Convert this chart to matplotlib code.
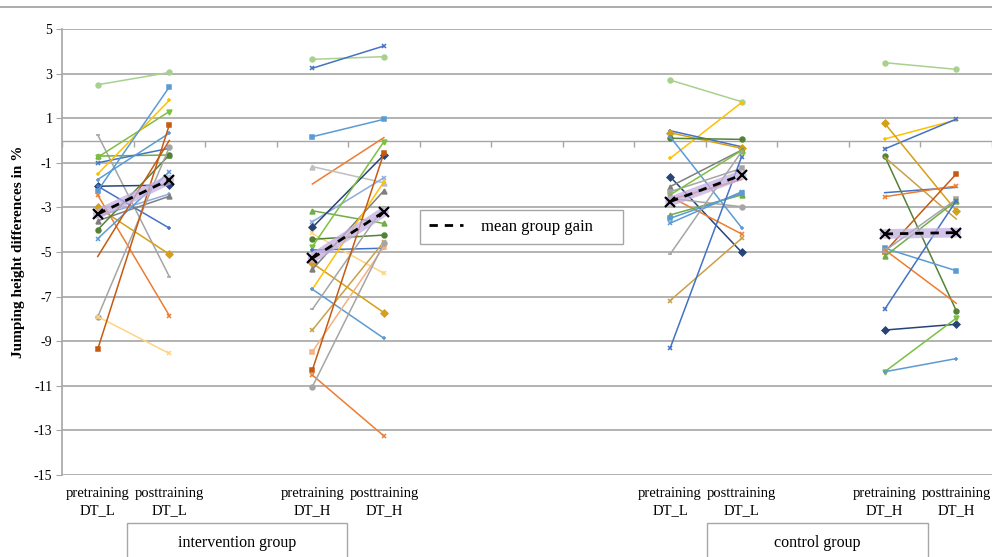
import matplotlib.pyplot as plt
import matplotlib.markers as mmarkers
from matplotlib.lines import Line2D
from matplotlib.patches import Rectangle

plt.rcParams['font.family'] = ['Liberation Serif', 'DejaVu Serif']
plt.rcParams['axes.unicode_minus'] = False

# category slots on the x axis (13 slots, some empty)
categories = ['pretraining\nDT_L', 'posttraining\nDT_L', '',
              'pretraining\nDT_H', 'posttraining\nDT_H', '', '', '',
              'pretraining\nDT_L', 'posttraining\nDT_L', '',
              'pretraining\nDT_H', 'posttraining\nDT_H']
yticks = [5, 3, 1, -1, -3, -5, -7, -9, -11, -13, -15]

# intervention group, DT_L
int_L_pre = [2.5, 0.25, -0.7, -0.75, -1.0, -1.5, -1.75, -2.05, -2.05, -2.25,
             -2.45, -3.0, -3.4, -3.6, -4.0, -4.4, -5.2, -7.9, -7.9, -9.35]
int_L_post = [3.05, -6.1, -0.65, 1.3, -0.35, 1.8, 0.33, -2.0, -3.93, 2.4,
              -7.85, -5.1, -2.4, -2.5, -0.65, -1.4, 0.0, -0.3, -9.55, 0.7]
# intervention group, DT_H
int_H_pre = [3.64, 3.24, 0.17, -1.95, -1.17, -3.15, -3.64, -3.9, -4.17, -4.43, -4.76,
             -4.91, -5.5, -5.78, -6.67, -6.67, -7.57, -8.5, -9.47, -10.29, -10.52, -11.04]
int_H_post = [3.76, 4.24, 0.95, 0.13, -1.9, -3.72, -1.67, -0.65, -5.96, -4.24, -0.05,
              -4.83, -7.72, -2.25, -1.85, -8.87, -2.97, -4.54, -4.76, -0.56, -13.25, -4.6]
# control group, DT_L
ctl_L_pre = [2.71, -0.8, 0.44, 0.35, 0.1, 0.17, -1.62, -2.07, -2.3, -2.44, -2.52,
             -2.6, -3.34, -3.49, -3.71, -5.1, -7.18, -9.32, -2.65]
ctl_L_post = [1.74, 1.7, -0.28, -0.35, 0.05, -3.91, -5.01, -0.43, -1.25, -0.45, -4.19,
              -2.97, -2.44, -2.37, -2.3, -0.5, -4.39, -0.73, -1.75]
# control group, DT_H
ctl_H_pre = [3.49, 0.07, -0.38, 0.77, -0.7, -0.75, -2.34, -2.52, -5.0, -4.83, -4.95,
             -4.9, -5.2, -7.57, -8.5, -10.37, -10.37]
ctl_H_post = [3.19, 0.92, 0.96, -3.15, -7.63, -3.52, -2.1, -2.04, -1.5, -5.84, -2.64,
              -7.3, -2.7, -2.7, -8.24, -7.97, -9.78]

mean_pre = [-3.3, -5.28, -2.74, -4.19]
mean_post = [-1.75, -3.2, -1.55, -4.13]

# styles
LG, GRAY, DGRAY, GREEN, LIME = '#A9D18E', '#A5A5A5', '#7F7F7F', '#70AD47', '#7CC042'
BLUE, LBLUE, NAVY, YEL, ORA = '#4472C4', '#5B9BD5', '#264478', '#FFC000', '#ED7D31'
DORA, GOLD, TAN, LPUR, LORA = '#C55A11', '#D4A017', '#C9A04A', '#8FAADC', '#FFD480'
SAL, DGRN, LGRAY = '#F4B183', '#548235', '#BFBFBF'

int_L_style = [(LG, 'o'), (GRAY, '_'), (GREEN, '^'), (LIME, 'v'), (BLUE, 'x'),
               (YEL, '+'), (LBLUE, '+'), (NAVY, 'D'), (BLUE, '+'), (LBLUE, 's'),
               (ORA, 'x'), (GOLD, 'D'), (LPUR, '+'), (DGRAY, '^'), (DGRN, 'o'),
               (LBLUE, 'x'), (DORA, ''), (GRAY, 'o'), (LORA, 'x'), (DORA, 's')]
int_H_style = [(LG, 'o'), (BLUE, 'x'), (LBLUE, 's'), (ORA, ''), (LGRAY, '^'),
               (GREEN, '^'), (LPUR, 'x'), (NAVY, 'D'), (LORA, 'x'), (DGRN, 'o'),
               (LIME, 'v'), (BLUE, '+'), (GOLD, 'D'), (DGRAY, '^'), (YEL, '+'),
               (LBLUE, '+'), (GRAY, '_'), (TAN, 'x'), (SAL, 's'), (DORA, 's'),
               (ORA, 'x'), (GRAY, 'o')]
ctl_L_style = [(LG, 'o'), (YEL, '+'), (BLUE, '+'), (GOLD, 'D'), (DGRN, 'o'),
               (LBLUE, '+'), (NAVY, 'D'), (DGRAY, '^'), (GRAY, 's'), (LIME, '^'),
               (ORA, 'x'), (GRAY, 'o'), (GREEN, '^'), (LBLUE, 's'), (LBLUE, 'x'),
               (GRAY, '_'), (TAN, 'x'), (BLUE, 'x'), (ORA, '')]
ctl_H_style = [(LG, 'o'), (YEL, '+'), (BLUE, 'x'), (GOLD, 'D'), (DGRN, 'o'),
               (TAN, ''), (BLUE, ''), (ORA, 'x'), (DORA, 's'), (LBLUE, 's'),
               (GRAY, 's'), (ORA, ''), (GREEN, '^'), (BLUE, 'x'), (NAVY, 'D'),
               (LIME, 'v'), (LBLUE, '+')]

groups = [(0, 1, int_L_pre, int_L_post, int_L_style),
          (3, 4, int_H_pre, int_H_post, int_H_style),
          (8, 9, ctl_L_pre, ctl_L_post, ctl_L_style),
          (11, 12, ctl_H_pre, ctl_H_post, ctl_H_style)]

fig = plt.figure(figsize=(9.92, 5.57), dpi=100)
ax = fig.add_axes([62 / 992, 1 - 475 / 557, 930 / 992, 446 / 557])

for y in yticks:
    ax.axhline(y, color='#A6A6A6', lw=1.2, zorder=0)
# category axis crossing at zero, with tick marks between slots
ax.axhline(0, color='#A6A6A6', lw=1.0, zorder=0)
ax.plot([i + 0.5 for i in range(-1, 13)], [0] * 14, ls='none', color='#A6A6A6',
        marker=mmarkers.TICKDOWN, ms=4, mew=1.0, zorder=0)

for x0, x1, pre, post, style in groups:
    for a, b, (c, m) in zip(pre, post, style):
        ax.plot([x0, x1], [a, b], color=c, lw=1.1, marker=m, ms=3.5, mew=1.1, zorder=2)

for (x0, x1, *_), a, b in zip(groups, mean_pre, mean_post):
    ax.plot([x0, x1], [a, b], color='#C3AEE0', lw=7, alpha=0.75,
            solid_capstyle='round', zorder=3)
    ax.plot([x0, x1], [a, b], color='black', lw=2, ls=(0, (3, 2.5)),
            marker='x', ms=6.5, mew=1.6, zorder=4)

ax.set_xlim(-0.5, 12.5)
ax.set_ylim(-15, 5)
ax.set_yticks(yticks)
ax.tick_params(axis='y', labelsize=10, length=4, color='#A6A6A6', pad=3)
ax.set_xticks(range(13))
ax.set_xticklabels(categories, fontsize=10.5, linespacing=1.35)
ax.tick_params(axis='x', length=0, pad=9)
for s in ['top', 'right', 'bottom']:
    ax.spines[s].set_visible(False)
ax.spines['left'].set_color('#A6A6A6')
ax.spines['left'].set_linewidth(1.2)
ax.set_ylabel('Jumping height differences in %', fontsize=11, fontweight='bold', labelpad=6)

leg = ax.legend([Line2D([], [], color='black', lw=2, ls=(0, (3, 2.5)))], ['mean group gain     '],
                loc='upper left', bbox_to_anchor=(420 / 992, 1 - 210 / 557),
                bbox_transform=fig.transFigure, borderaxespad=0, fancybox=False,
                framealpha=1, edgecolor='#A6A6A6', fontsize=12, handlelength=2.0,
                borderpad=0.55, handletextpad=1.1)
leg.get_frame().set_linewidth(1.0)

# top rule and group boxes
fig.add_artist(Line2D([0, 1], [1 - 7 / 557, 1 - 7 / 557], color='#A6A6A6', lw=1.3))
for x0, x1, label in [(127, 347, 'intervention group'), (707, 928, 'control group')]:
    fig.add_artist(Rectangle((x0 / 992, -0.05), (x1 - x0) / 992, 0.05 + (557 - 523) / 557,
                             transform=fig.transFigure, fill=False, ec='#A6A6A6', lw=1.0))
    fig.text((x0 + x1) / 2 / 992, 1 - 543 / 557, label, ha='center', va='center', fontsize=11.5)

fig.savefig('out.png', dpi=100)
